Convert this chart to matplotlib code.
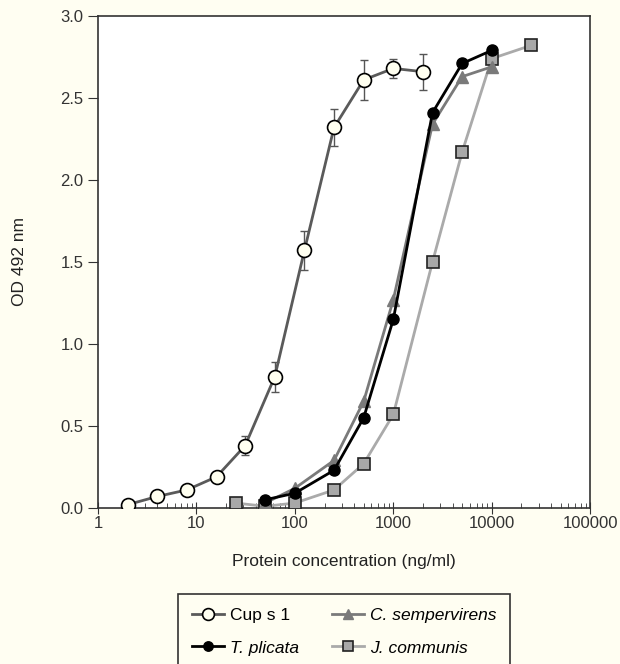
import numpy as np
import matplotlib
matplotlib.use('Agg')
import matplotlib.pyplot as plt

plt.rcParams['font.family'] = ['Liberation Sans', 'DejaVu Sans']

# Cup s 1 (with error bars)
cup_x = [2, 4, 8, 16, 31.25, 62.5, 125, 250, 500, 1000, 2000]
cup_y = [0.02, 0.07, 0.11, 0.19, 0.38, 0.80, 1.57, 2.32, 2.61, 2.68, 2.66]
cup_err = [0.0, 0.03, 0.03, 0.03, 0.06, 0.09, 0.12, 0.11, 0.12, 0.06, 0.11]

# T. plicata
tp_x = [50, 100, 250, 500, 1000, 2500, 5000, 10000]
tp_y = [0.05, 0.09, 0.23, 0.55, 1.15, 2.41, 2.71, 2.79]

# C. sempervirens
cs_x = [50, 100, 250, 500, 1000, 2500, 5000, 10000]
cs_y = [0.03, 0.12, 0.29, 0.65, 1.27, 2.34, 2.63, 2.69]

# J. communis
jc_x = [25, 50, 100, 250, 500, 1000, 2500, 5000, 10000, 25000]
jc_y = [0.03, 0.01, 0.03, 0.11, 0.27, 0.57, 1.50, 2.17, 2.74, 2.82]

bg = '#fffef2'
fig = plt.figure(figsize=(6.2, 6.64), dpi=100, facecolor=bg)
ax = fig.add_axes([0.158, 0.235, 0.794, 0.741])
ax.set_facecolor('white')

ax.errorbar(cup_x, cup_y, yerr=cup_err, fmt='none', ecolor='#555555',
            elinewidth=1, capsize=3, capthick=1, zorder=2)
ax.plot(cup_x, cup_y, color='#5a5a5a', lw=2, marker='o', ms=10,
        mfc='#fffff0', mec='black', mew=1.2, zorder=3, label='Cup s 1')
ax.plot(jc_x, jc_y, color='#aaaaaa', lw=2, marker='s', ms=8,
        mfc='#a8a8a8', mec='#222222', mew=1.2, zorder=3, label='J. communis')
ax.plot(cs_x, cs_y, color='#7a7a7a', lw=2, marker='^', ms=8,
        mfc='#7a7a7a', mec='#7a7a7a', zorder=4, label='C. sempervirens')
ax.plot(tp_x, tp_y, color='black', lw=2, marker='o', ms=8,
        mfc='black', mec='black', zorder=5, label='T. plicata')

ax.set_xscale('log')
ax.set_xlim(1, 100000)
ax.set_ylim(0, 3.0)
ax.set_yticks([0, 0.5, 1.0, 1.5, 2.0, 2.5, 3.0])
ax.set_yticklabels(['0.0', '0.5', '1.0', '1.5', '2.0', '2.5', '3.0'])
ax.set_xticks([1, 10, 100, 1000, 10000, 100000])
ax.set_xticklabels(['1', '10', '100', '1000', '10000', '100000'])
ax.tick_params(axis='x', which='major', direction='inout', length=8, labelsize=12,
               colors='#333333', pad=2)
ax.tick_params(axis='x', which='minor', direction='in', length=3.5, color='#333333')
ax.tick_params(axis='y', direction='out', length=7, labelsize=12, colors='#333333')
for s in ax.spines.values():
    s.set_color('#333333')
    s.set_linewidth(1.2)

ax.set_xlabel('Protein concentration (ng/ml)', fontsize=12.5, color='#222222', labelpad=16)
ax.set_ylabel('OD 492 nm', fontsize=12.5, color='#222222', labelpad=24)

h, l = ax.get_legend_handles_labels()
order = [0, 3, 2, 1]
leg = fig.legend([h[i] for i in order], [l[i] for i in order], ncol=2,
                 loc='upper left', bbox_to_anchor=(0.287, 0.1054, 0.536, 0.0),
                 mode='expand', borderaxespad=0, fancybox=False, edgecolor='#333333',
                 facecolor=bg, framealpha=1, fontsize=12.5, handlelength=1.85,
                 handletextpad=0.35, borderpad=0.8, labelspacing=1.0,
                 columnspacing=1.0, markerscale=0.85)
leg.get_frame().set_linewidth(1.2)
for t in leg.get_texts():
    if t.get_text() != 'Cup s 1':
        t.set_fontstyle('italic')

plt.savefig('out.png', dpi=100, facecolor=bg)
